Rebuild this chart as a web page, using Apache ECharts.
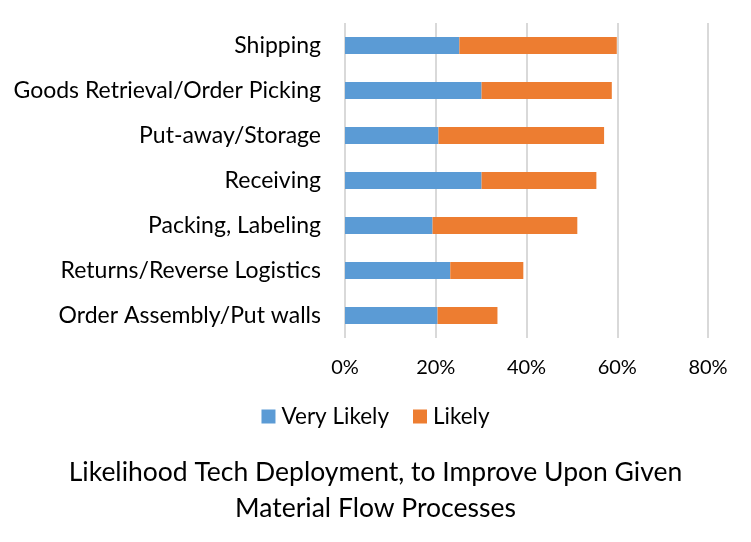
<!DOCTYPE html>
<html><head><meta charset="utf-8">
<script src="https://cdn.jsdelivr.net/npm/echarts@6/dist/echarts.min.js"></script>
<style>html,body{margin:0;padding:0;background:#fff}#c{width:751px;height:542px}</style>
</head><body><div id="c"></div>
<script>
const categories = ["Order Assembly/Put walls","Returns/Reverse Logistics","Packing, Labeling","Receiving","Put-away/Storage","Goods Retrieval/Order Picking","Shipping"];
const veryLikely = [20.4, 23.2, 19.3, 30.1, 20.6, 30.1, 25.2];
const likely = [13.2, 16.1, 31.9, 25.3, 36.5, 28.7, 34.7];
const tickValues = [0, 20, 40, 60, 80];
const seriesNames = ["Very Likely", "Likely"];
const titleText = "Likelihood Tech Deployment, to Improve Upon Given\nMaterial Flow Processes";

const FONT = "Lato";
const chart = echarts.init(document.getElementById('c'));
chart.setOption({
  animation: false,
  textStyle: {fontFamily: FONT},
  title: {
    text: titleText, left: 'center', top: 449,
    textStyle: {fontFamily: FONT, fontSize: 26.5, fontWeight: 'normal', color: '#000', lineHeight: 36}
  },
  legend: {
    data: seriesNames, top: 400, left: 'center',
    itemWidth: 14, itemHeight: 14, itemGap: 24, icon: 'rect',
    textStyle: {fontFamily: FONT, fontSize: 22.5, color: '#000', padding: [0, 0, 0, 1]}
  },
  grid: {left: 345, right: 43, top: 23, bottom: 204, containLabel: false},
  xAxis: {
    type: 'value', min: 0, max: 80, interval: 20,
    axisLine: {show: false}, axisTick: {show: false},
    axisLabel: {formatter: v => tickValues.includes(v) ? v + '%' : '', fontFamily: FONT, fontSize: 20, color: '#000', margin: 20},
    splitLine: {show: true, lineStyle: {color: '#D9D9D9', width: 2}}
  },
  yAxis: {
    type: 'category', data: categories,
    axisLine: {show: false}, axisTick: {show: false},
    axisLabel: {fontFamily: FONT, fontSize: 23, color: '#000', margin: 24}
  },
  series: [
    {name: seriesNames[0], type: 'bar', stack: 's', data: veryLikely, barWidth: 17, itemStyle: {color: '#5B9BD5'}},
    {name: seriesNames[1], type: 'bar', stack: 's', data: likely, barWidth: 17, itemStyle: {color: '#ED7D31'}}
  ]
});
</script></body></html>
